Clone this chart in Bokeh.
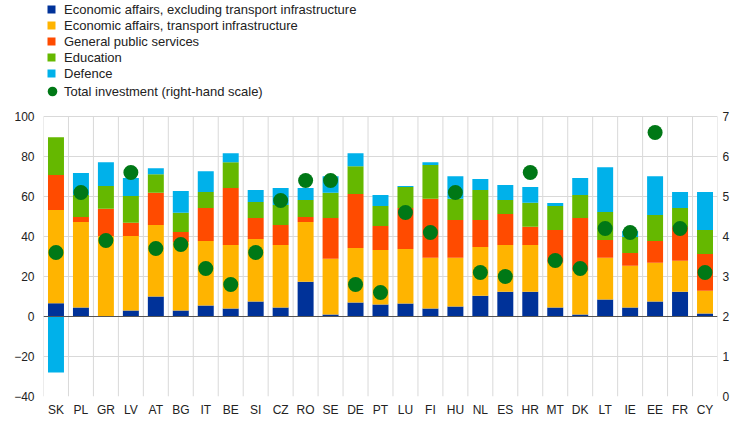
import numpy as np
from bokeh.plotting import figure
from bokeh.models import (Range1d, LinearAxis, FixedTicker, Span, Legend,
                          LegendItem, FactorRange)
from bokeh.embed import file_html
from bokeh.resources import INLINE

countries = ["SK", "PL", "GR", "LV", "AT", "BG", "IT", "BE", "SI", "CZ", "RO", "SE", "DE", "PT",
             "LU", "FI", "HU", "NL", "ES", "HR", "MT", "DK", "LT", "IE", "EE", "FR", "CY"]
econ_excl = [6.6, 4.5, 0.0, 3.0, 10.0, 3.0, 5.5, 4.0, 7.5, 4.5, 17.4, 1.0, 7.0, 6.0,
             6.5, 4.0, 5.0, 10.4, 12.4, 12.4, 4.5, 1.0, 8.5, 4.5, 7.5, 12.4, 1.5]
transport = [46.6, 42.8, 40.3, 37.3, 35.8, 34.3, 32.3, 31.8, 31.3, 31.3, 29.9, 27.9, 27.3, 27.3,
             27.3, 25.4, 24.4, 24.4, 23.4, 23.4, 22.4, 21.9, 20.9, 20.9, 19.4, 15.5, 11.4]
general = [17.6, 2.5, 13.6, 6.6, 16.1, 5.0, 16.4, 28.4, 10.5, 10.0, 2.5, 20.4, 26.9, 12.0,
           20.4, 29.5, 18.9, 13.5, 15.4, 9.1, 16.4, 26.4, 8.9, 6.4, 10.9, 16.9, 18.4]
education = [18.8, 11.0, 11.3, 13.3, 9.2, 9.6, 8.0, 12.9, 7.9, 9.9, 8.4, 12.6, 13.9, 9.9,
             10.5, 16.9, 10.6, 14.9, 7.0, 12.0, 11.9, 11.4, 13.9, 8.0, 12.9, 9.4, 12.0]
defence = [-28.0, 11.0, 11.9, 9.0, 3.0, 10.8, 10.4, 4.5, 6.0, 8.5, 6.0, 8.2, 6.5, 5.5,
           0.5, 1.3, 11.2, 5.5, 7.5, 7.8, 1.5, 8.5, 22.4, 3.0, 19.4, 8.0, 18.9]
total = [3.6, 5.1, 3.9, 5.6, 3.7, 3.8, 3.2, 2.8, 3.6, 4.9, 5.4, 5.4, 2.8, 2.6,
         4.6, 4.1, 5.1, 3.1, 3.0, 5.6, 3.4, 3.2, 4.2, 4.1, 6.6, 4.2, 3.1]

left_ticks = [-40, -20, 0, 20, 40, 60, 80, 100]
right_ticks = [0, 1, 2, 3, 4, 5, 6, 7]

series_names = ["Economic affairs, excluding transport infrastructure",
                "Economic affairs, transport infrastructure",
                "General public services", "Education", "Defence"]
total_name = "Total investment (right-hand scale)"
series = [econ_excl, transport, general, education, defence]
colors = ["#003299", "#FFB400", "#FF4B00", "#65B800", "#00B1EA"]
dot_color = "#007816"

FONT = "Liberation Sans"
TXT = "#222222"
GRID = "#d9d9d9"

# plot frame also hosts the legend band on top: left scale -40..100 spans 280px,
# the extra band above 100 holds the legend (same 2px per unit scale)
FRAME_H = 396
L_MIN, L_MAX = -40, 100
top_val = L_MIN + (L_MAX - L_MIN) * FRAME_H / 280.0
R_MIN = 0
r_top = R_MIN + (top_val - L_MIN) / 20.0

p = figure(x_range=FactorRange(*countries, range_padding=0), y_range=Range1d(L_MIN, top_val),
           frame_width=674, frame_height=FRAME_H, output_backend="svg", toolbar_location=None,
           min_border_left=43, min_border_right=11, min_border_top=0, min_border_bottom=20)
p.extra_y_ranges = {"right": Range1d(R_MIN, r_top)}

# vertical grid lines between categories, only over the data area
bx = [(c, -0.5) for c in countries] + [(countries[-1], 0.5)]
p.segment(x0=bx, x1=bx, y0=[L_MIN] * len(bx), y1=[L_MAX] * len(bx),
          line_color=GRID, line_width=1)

pos_base = np.zeros(len(countries))
neg_base = np.zeros(len(countries))
renderers = []
for vals, col in zip(series, colors):
    v = np.array(vals, dtype=float)
    bottom = np.where(v >= 0, pos_base, neg_base)
    top = bottom + v
    pos_base = np.where(v >= 0, top, pos_base)
    neg_base = np.where(v < 0, top, neg_base)
    r = p.vbar(x=countries, bottom=bottom, top=top, width=0.64, fill_color=col, line_color=None)
    renderers.append(r)

p.add_layout(Span(location=0, dimension="width", line_color="#555555", line_width=1.2))

dots = p.circle(x=countries, y=total, y_range_name="right", radius=7.5, radius_units="screen",
                fill_color=dot_color, line_color=None)

right_axis = LinearAxis(y_range_name="right", ticker=FixedTicker(ticks=right_ticks))
p.add_layout(right_axis, "right")

p.yaxis[0].ticker = FixedTicker(ticks=left_ticks)
for ax in p.yaxis + p.xaxis:
    ax.axis_line_color = None
    ax.major_tick_line_color = None
    ax.minor_tick_line_color = None
    ax.major_tick_out = 0
    ax.major_tick_in = 0
    ax.minor_tick_out = 0
    ax.major_label_text_font = FONT
    ax.major_label_text_font_size = "12px"
    ax.major_label_text_color = TXT
p.yaxis[0].major_label_standoff = 9
right_axis.major_label_standoff = 5
p.xaxis.major_label_standoff = 6

p.ygrid.grid_line_color = GRID
p.ygrid.ticker = FixedTicker(ticks=left_ticks)
p.xgrid.grid_line_color = None
p.outline_line_color = None

legend_style = dict(orientation="vertical", label_text_font=FONT, label_text_font_size="13px",
                    label_text_color=TXT, label_height=16, spacing=0, padding=0, margin=0,
                    background_fill_alpha=0, border_line_color=None)

items = [LegendItem(label=n, renderers=[r]) for n, r in zip(series_names, renderers)]
legend = Legend(items=items, location=(3, FRAME_H - 1 - 5 * 16),
                glyph_width=10, glyph_height=10, label_standoff=8, **legend_style)
p.add_layout(legend, "center")

dot_legend = Legend(items=[LegendItem(label=total_name, renderers=[dots])],
                    location=(-3, FRAME_H - 103),
                    glyph_width=24, glyph_height=24, label_standoff=0, **legend_style)
p.add_layout(dot_legend, "center")

open("out.html", "w").write(file_html(p, INLINE))
